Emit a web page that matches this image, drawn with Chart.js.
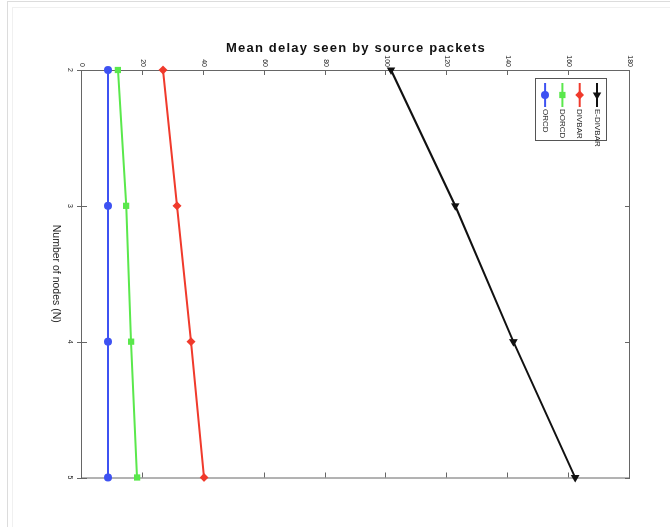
<!DOCTYPE html>
<html>
<head>
<meta charset="utf-8">
<script src="https://cdn.jsdelivr.net/npm/chart.js@4.4.1/dist/chart.umd.min.js"></script>
<style>
  body { margin: 0; background: #fff; width: 670px; height: 527px; overflow: hidden; position: relative;
         font-family: 'Liberation Sans', Arial, sans-serif; }
  #frame { position: absolute; left: 7px; top: 1px; width: 680px; height: 540px; border: 1px solid #dcdcdc; }
  #inner { position: absolute; left: 12px; top: 7px; width: 680px; height: 540px;
           border-left: 1px solid #f0f0f0; border-top: 1px solid #f0f0f0; }
  #title { position: absolute; left: 82px; width: 548px; top: 40px; text-align: center;
           font-weight: bold; font-size: 13px; letter-spacing: 1.2px; color: #111; }
  /* the figure is shown turned a quarter turn clockwise */
  #rot { position: absolute; left: 0; top: 0; width: 470px; height: 650px;
         transform-origin: 0 0; transform: translate(660px, 40px) rotate(90deg); }
</style>
</head>
<body>
<div id="frame"></div>
<div id="inner"></div>
<div id="rot"><canvas id="delay-chart" width="470" height="650"></canvas></div>
<div id="title">Mean delay seen by source packets</div>

<script>
const nodes = ['2', '3', '4', '5'];
const delayTicks = [0, 20, 40, 60, 80, 100, 120, 140, 160, 180];

const eDivbar = [101.5, 122.6, 141.7, 162.0];
const divbar = [26.6, 31.2, 35.8, 40.1];
const dorcd = [11.8, 14.5, 16.1, 18.1];
const orcd = [8.5, 8.5, 8.5, 8.5];

const narrow = "'Liberation Sans Narrow', 'Liberation Sans', Arial, sans-serif";

function series(label, data, color, style, rotation) {
    return {
        label: label,
        data: data,
        borderColor: color,
        backgroundColor: color,
        pointBackgroundColor: color,
        pointBorderColor: color,
        pointStyle: style,
        pointRotation: rotation || 0,
        pointRadius: 3,
        borderWidth: 2,
        tension: 0,
        clip: false
    };
}

// box round the plot with tick marks
const boxPlugin = {
    id: 'box',
    beforeDatasetsDraw(chart) {
        const ctx = chart.ctx;
        const a = chart.chartArea;
        ctx.save();
        ctx.strokeStyle = '#666';
        ctx.lineWidth = 1;
        ctx.strokeRect(a.left + 0.5, a.top + 0.5, a.right - a.left, a.bottom - a.top);
        ctx.beginPath();
        chart.scales.x.ticks.forEach((t, i) => {
            const px = Math.round(chart.scales.x.getPixelForTick(i)) + 0.5;
            ctx.moveTo(px, a.bottom + 5); ctx.lineTo(px, a.bottom - 5);
            ctx.moveTo(px, a.top); ctx.lineTo(px, a.top + 5);
        });
        delayTicks.forEach(v => {
            const py = Math.round(chart.scales.y.getPixelForValue(v)) + 0.5;
            ctx.moveTo(a.left, py); ctx.lineTo(a.left + 5, py);
            ctx.moveTo(a.right, py); ctx.lineTo(a.right - 5, py);
        });
        ctx.stroke();
        ctx.restore();
    }
};

// matlab style legend box inside the plot
const legendPlugin = {
    id: 'boxLegend',
    afterDraw(chart) {
        const ctx = chart.ctx;
        const a = chart.chartArea;
        const x0 = a.left + 8, y0 = a.top + 23, w = 62, h = 71;
        ctx.save();
        ctx.fillStyle = '#fff';
        ctx.fillRect(x0, y0, w, h);
        ctx.strokeStyle = '#555';
        ctx.lineWidth = 1;
        ctx.strokeRect(x0 + 0.5, y0 + 0.5, w, h);
        chart.data.datasets.forEach((ds, i) => {
            const cy = y0 + 10 + i * 17.3;
            ctx.strokeStyle = ds.borderColor;
            ctx.fillStyle = ds.borderColor;
            ctx.lineWidth = 2;
            ctx.beginPath();
            ctx.moveTo(x0 + 5, cy);
            ctx.lineTo(x0 + 29, cy);
            ctx.stroke();
            Chart.helpers.drawPoint(ctx, {
                pointStyle: ds.pointStyle, rotation: ds.pointRotation, radius: 3, borderWidth: 1
            }, x0 + 17, cy);
            ctx.fillStyle = '#222';
            ctx.font = '8px ' + narrow;
            ctx.textBaseline = 'middle';
            ctx.textAlign = 'left';
            ctx.fillText(ds.label, x0 + 31, cy);
        });
        ctx.restore();
    }
};

new Chart(document.getElementById('delay-chart'), {
    type: 'line',
    data: {
        labels: nodes,
        datasets: [
            series('E-DIVBAR', eDivbar, '#111111', 'triangle', 90),
            series('DIVBAR', divbar, '#f03a2c', 'rectRot'),
            series('DORCD', dorcd, '#5ae84c', 'rect'),
            series('ORCD', orcd, '#3e52f2', 'circle')
        ]
    },
    options: {
        responsive: false,
        devicePixelRatio: 1,
        animation: false,
        layout: { padding: { top: 30, right: 32.5, bottom: 0, left: 0 } },
        plugins: {
            legend: { display: false },
            tooltip: { enabled: false }
        },
        scales: {
            x: {
                grid: { display: false, drawTicks: false },
                border: { display: false },
                ticks: { font: { size: 7, family: narrow }, color: '#222', padding: 8, maxRotation: 0, autoSkip: false },
                title: {
                    display: true,
                    text: 'Number of nodes (N)',
                    color: '#222',
                    font: { size: 10.5, family: narrow },
                    padding: { top: 0, bottom: 40 }
                },
                afterFit: s => { s.height = 72; }
            },
            y: {
                min: 0,
                max: 180,
                grid: { display: false, drawTicks: false },
                border: { display: false },
                afterBuildTicks: s => { s.ticks = delayTicks.map(v => ({ value: v })); },
                ticks: { font: { size: 7, family: narrow }, color: '#222', padding: 3, crossAlign: 'near' },
                afterFit: s => { s.width = 30; }
            }
        }
    },
    plugins: [boxPlugin, legendPlugin]
});
</script>
</body>
</html>
